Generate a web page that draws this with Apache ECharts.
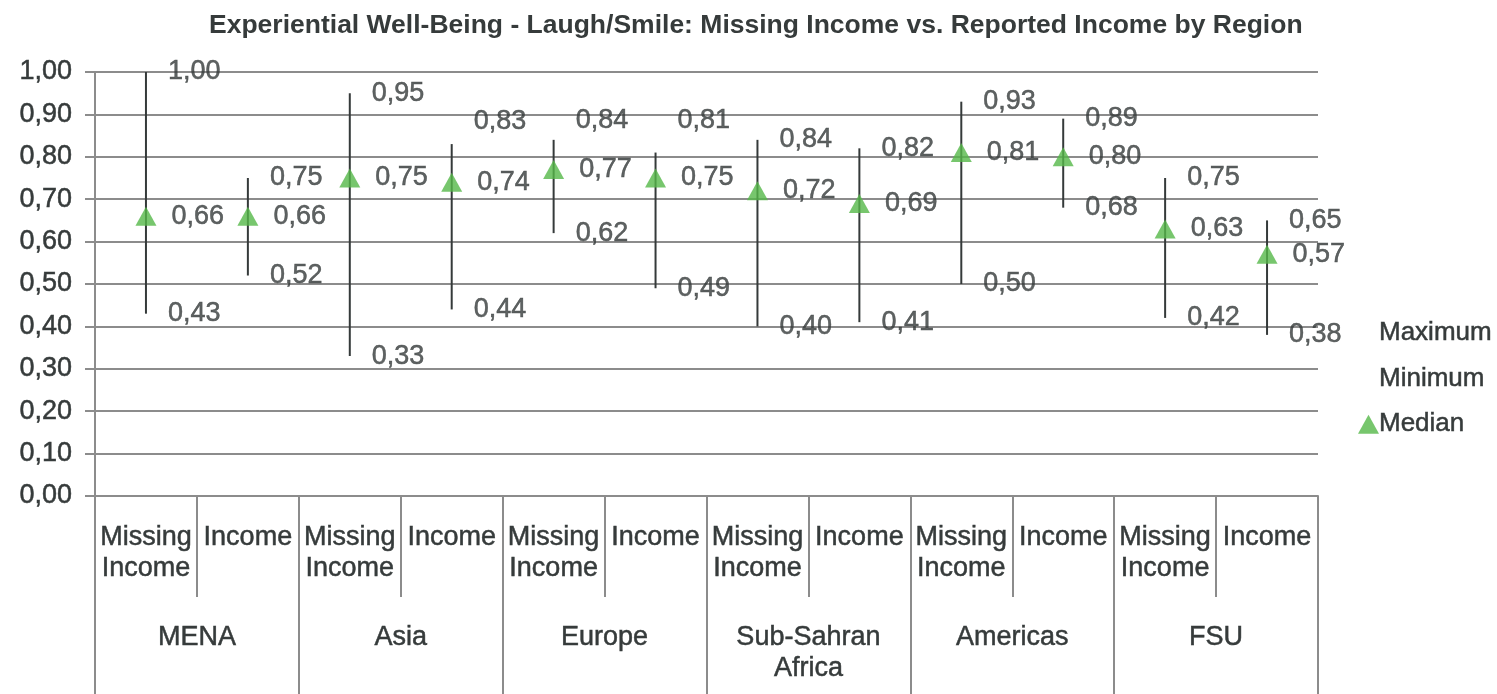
<!DOCTYPE html>
<html>
<head>
<meta charset="utf-8">
<script src="https://cdn.jsdelivr.net/npm/echarts@6/dist/echarts.min.js"></script>
<style>html,body{margin:0;padding:0;background:#fff}#chart{width:1497px;height:694px}</style>
</head>
<body>
<div id="chart"></div>
<script>
const subCategories = ['Missing\nIncome','Income','Missing\nIncome','Income','Missing\nIncome','Income','Missing\nIncome','Income','Missing\nIncome','Income','Missing\nIncome','Income'];
const regions = ['MENA','Asia','Europe','Sub-Sahran\nAfrica','Americas','FSU'];
const maximum = [1.00,0.75,0.95,0.83,0.84,0.81,0.84,0.82,0.93,0.89,0.75,0.65];
const minimum = [0.43,0.52,0.33,0.44,0.62,0.49,0.40,0.41,0.50,0.68,0.42,0.38];
const median  = [0.66,0.66,0.75,0.74,0.77,0.75,0.72,0.69,0.81,0.80,0.63,0.57];
const yTicks = [0,0.1,0.2,0.3,0.4,0.5,0.6,0.7,0.8,0.9,1.0];

const TXT = '#363b3b';
const GRID = '#8c8c8c';
const FONT = '"Liberation Sans", Arial, sans-serif';
const FS = 27;
const thick = {textBorderColor: TXT, textBorderWidth: 0.5};
const fmt = v => v.toFixed(2).replace('.', ',');
// manual label nudges (as in the original, some max labels were moved up)
const maxLabelNudge = {3:-23, 4:-19, 5:-32};

const chart = echarts.init(document.getElementById('chart'));
const labelBase = Object.assign({fontFamily: FONT, fontSize: FS, color: TXT}, thick);
const option = {
  backgroundColor: '#fff',
  animation: false,
  textStyle: {fontFamily: FONT},
  title: {
    text: 'Experiential Well-Being - Laugh/Smile: Missing Income vs. Reported Income by Region',
    left: 204, top: 7,
    textStyle: {fontFamily: FONT, fontSize: 26.5, fontWeight: 'bold', color: TXT}
  },
  legend: {
    orient: 'vertical', left: 1353, top: 315, itemGap: 19,
    itemWidth: 21, itemHeight: 19,
    textStyle: Object.assign({padding: [0,0,0,-5]}, labelBase, {fontSize: 26}),
    data: ['Maximum','Minimum','Median']
  },
  grid: {left: 95, right: 179, top: 72, bottom: 198, containLabel: false},
  xAxis: [{
    type: 'category', data: subCategories, position: 'bottom',
    axisLine: {show: true, lineStyle: {color: GRID, width: 2}},
    axisTick: {show: true, interval: 0, length: 101, lineStyle: {color: GRID, width: 2}},
    axisLabel: Object.assign({interval: 0, margin: 26, lineHeight: 31, verticalAlign: 'top'}, labelBase)
  }, {
    type: 'category', data: regions, position: 'bottom', offset: 101,
    axisLine: {show: false},
    axisTick: {show: true, interval: 0, length: 97, lineStyle: {color: GRID, width: 2}},
    axisLabel: Object.assign({interval: 0, margin: 25, lineHeight: 31, verticalAlign: 'top'}, labelBase)
  }],
  yAxis: {
    type: 'value', min: 0, max: 1, interval: 0.1,
    axisLine: {show: true, lineStyle: {color: GRID, width: 2}},
    axisTick: {show: true, length: 10, lineStyle: {color: GRID, width: 2}},
    splitLine: {show: true, lineStyle: {color: GRID, width: 2}},
    axisLabel: Object.assign({margin: 23, formatter: v => fmt(v)}, labelBase)
  },
  series: [{
    type: 'custom', name: 'range', xAxisIndex: 0,
    data: subCategories.map((c, i) => [i, minimum[i], maximum[i]]),
    renderItem: (params, api) => {
      const lo = api.coord([api.value(0), api.value(1)]);
      const hi = api.coord([api.value(0), api.value(2)]);
      return {type: 'line', shape: {x1: lo[0], y1: lo[1], x2: hi[0], y2: hi[1]},
        style: {stroke: '#353a3a', lineWidth: 2}};
    },
    z: 2
  }, {
    type: 'scatter', name: 'Maximum', xAxisIndex: 0,
    symbol: 'rect', symbolSize: 2,
    itemStyle: {color: 'rgba(0,0,0,0)'},
    data: maximum.map((v, i) => ({value: [i, v],
      label: {offset: [0, maxLabelNudge[i] || 0]}})),
    label: Object.assign({show: true, position: 'right', distance: 21,
      formatter: p => fmt(p.value[1])}, labelBase),
    z: 3
  }, {
    type: 'scatter', name: 'Minimum', xAxisIndex: 0,
    symbol: 'rect', symbolSize: 2,
    itemStyle: {color: 'rgba(0,0,0,0)'},
    data: minimum.map((v, i) => [i, v]),
    label: Object.assign({show: true, position: 'right', distance: 21,
      formatter: p => fmt(p.value[1])}, labelBase),
    z: 3
  }, {
    type: 'scatter', name: 'Median', xAxisIndex: 0,
    symbol: 'triangle', symbolSize: [21, 19],
    itemStyle: {color: '#55b848'},
    data: median.map((v, i) => [i, v]),
    label: Object.assign({show: true, position: 'right', distance: 15,
      formatter: p => fmt(p.value[1])}, labelBase),
    z: 4
  }]
};
chart.setOption(option);
</script>
</body>
</html>
